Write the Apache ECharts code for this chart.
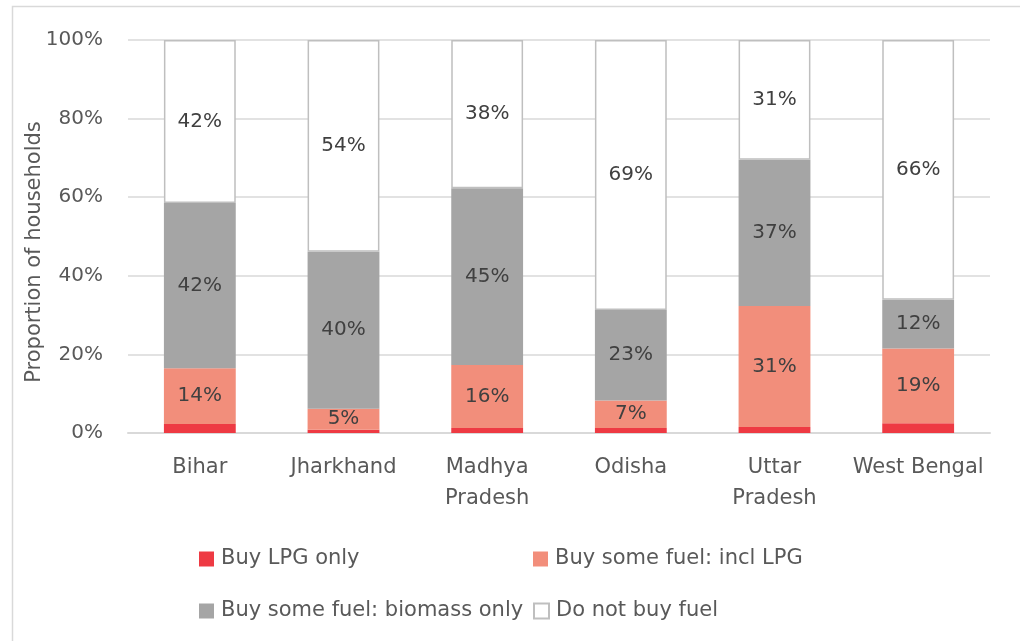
<!DOCTYPE html>
<html>
<head>
<meta charset="utf-8">
<script src="https://cdn.jsdelivr.net/npm/echarts@6/dist/echarts.min.js"></script>
<style>html,body{margin:0;padding:0;background:#fff;}#c{width:1020px;height:641px;}</style>
</head>
<body>
<div id="c"></div>
<script>
var categories = ['Bihar', 'Jharkhand', 'Madhya\nPradesh', 'Odisha', 'Uttar\nPradesh', 'West Bengal'];
var lpgOnly   = [2.3, 0.8, 1.3, 1.3, 1.5, 2.5];
var inclLpg   = [14.2, 5.4, 16.0, 7.0, 30.8, 19.0];
var biomass   = [42.0, 39.9, 45.0, 23.0, 37.2, 12.4];
var noBuy     = [41.5, 53.9, 37.7, 68.7, 30.5, 66.1];
var seriesNames = ['Buy LPG only', 'Buy some fuel: incl LPG', 'Buy some fuel: biomass only', 'Do not buy fuel'];
var yAxisTitle = 'Proportion of households';

var FONT = 'DejaVu Sans';
var chart = echarts.init(document.getElementById('c'));
function lbl(show) {
  return {
    show: show, position: 'inside', color: '#404040', fontSize: 20, fontFamily: FONT,
    formatter: function (p) { return Math.round(p.value) + '%'; }
  };
}
function legendAt(name, left, top) {
  return {
    data: [name], left: left, top: top, itemWidth: 15, itemHeight: 15, itemGap: 0,
    icon: 'rect', selectedMode: false, padding: 0,
    textStyle: { color: '#595959', fontSize: 21, fontFamily: FONT, lineHeight: 22, padding: [0, 0, 0, 2] }
  };
}
chart.setOption({
  animation: false,
  backgroundColor: '#fff',
  graphic: [{
    type: 'rect', shape: { x: 12.5, y: 6.5, width: 1100, height: 700 },
    style: { fill: 'none', stroke: '#d9d9d9', lineWidth: 1.5 }, silent: true, z: -10
  }, {
    type: 'text', x: 35, y: 252, rotation: Math.PI / 2, silent: true,
    style: { text: yAxisTitle, fill: '#595959', font: '21px "DejaVu Sans"',
      textAlign: 'center', textVerticalAlign: 'middle' }
  }],
  grid: { left: 128, right: 30, top: 40, bottom: 208 },
  legend: [
    legendAt(seriesNames[0], 199, 548),
    legendAt(seriesNames[1], 533, 548),
    legendAt(seriesNames[2], 199, 600),
    legendAt(seriesNames[3], 533, 600)
  ],
  xAxis: {
    type: 'category', data: categories,
    axisLine: { lineStyle: { color: '#d9d9d9', width: 2 } },
    axisTick: { show: false },
    axisLabel: { color: '#595959', fontSize: 21, fontFamily: FONT, margin: 19, lineHeight: 31, interval: 0 }
  },
  yAxis: {
    type: 'value', min: 0, max: 100, interval: 20,
    axisLabel: { color: '#595959', fontSize: 20, fontFamily: FONT, margin: 25,
      formatter: function (v) { return v + '%'; } },
    axisLine: { show: false }, axisTick: { show: false },
    splitLine: { lineStyle: { color: '#d9d9d9', width: 1.5 } }
  },
  series: [
    { name: seriesNames[0], type: 'bar', stack: 's', data: lpgOnly, barWidth: '50%',
      itemStyle: { color: '#ee3a43' }, label: lbl(false) },
    { name: seriesNames[1], type: 'bar', stack: 's', data: inclLpg,
      itemStyle: { color: '#f28e7b' }, label: lbl(true) },
    { name: seriesNames[2], type: 'bar', stack: 's', data: biomass,
      itemStyle: { color: '#a5a5a5' }, label: lbl(true) },
    { name: seriesNames[3], type: 'bar', stack: 's', data: noBuy,
      itemStyle: { color: '#ffffff', borderColor: '#bfbfbf', borderWidth: 1.5 }, label: lbl(true) }
  ]
});
</script>
</body>
</html>
